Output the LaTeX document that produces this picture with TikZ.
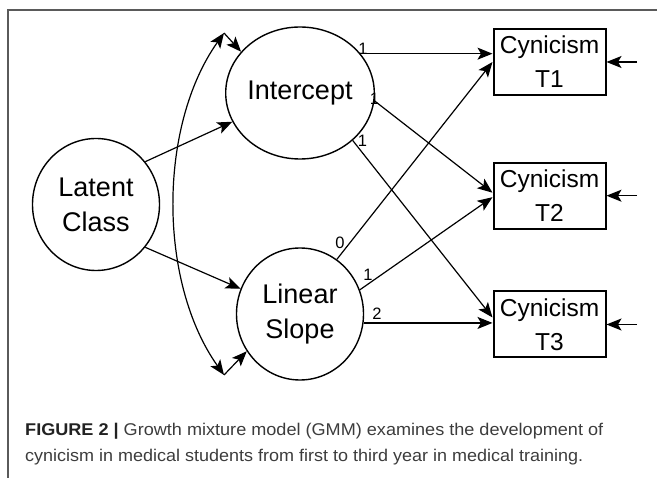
\documentclass[tikz,border=0pt]{standalone}
\usepackage{fontspec}
\usepackage{graphicx}
\setmainfont{Liberation Sans}
\usetikzlibrary{shapes.geometric,arrows.meta,calc}

\definecolor{framegray}{HTML}{5A5A5A}
\definecolor{captext}{HTML}{3C3C3C}
\definecolor{capbold}{HTML}{222222}

\begin{document}
\begin{tikzpicture}[x=1pt,y=-1pt,
  latentvar/.style={ellipse,draw,line width=1.4pt,minimum width=127pt,minimum height=132pt,
    inner sep=0pt,align=center,font=\fontsize{27}{35}\selectfont},
  obsvar/.style={rectangle,draw,line width=2pt,minimum width=112pt,minimum height=66pt,
    inner sep=0pt,align=center,font=\fontsize{24.5}{34}\selectfont},
  tip/.tip={Stealth[length=15pt,width=12pt,inset=3.5pt]},
  conn/.style={line width=1.2pt,-tip},
  biconn/.style={line width=1.2pt,tip-tip},
  loading/.style={inner sep=0pt,font=\fontsize{16.5}{18}\selectfont},
  captionline/.style={anchor=base west,inner sep=0pt,text=captext,font=\fontsize{17}{22}\selectfont}]

\useasboundingbox (0,0) rectangle (657,478);

% outer frame (open on the right and at the bottom)
\draw[framegray,line width=1.5pt] (8,478) -- (8,10) -- (657,10);

% latent variables
\node[latentvar] (lat) at (96,204.5) {Latent\\Class};
\node[latentvar] (int) at (300,93) {Intercept};
\node[latentvar] (sl)  at (300,314) {Linear\\Slope};

% observed indicators
\node[obsvar] (t1) at (549.5,62)    {Cynicism\\T1};
\node[obsvar] (t2) at (549.5,195.7) {Cynicism\\T2};
\node[obsvar] (t3) at (549.5,324.5) {Cynicism\\T3};

% class -> growth factors
\draw[conn] (lat.41)  -- (int.203);
\draw[conn] (lat.-41) -- (sl.157);

% covariance between intercept and slope
\coordinate (ctop) at (224,33);
\coordinate (cbot) at (224,375);
\draw[biconn] (cbot) .. controls (158,282) and (158,126) .. (ctop);
\draw[conn] (ctop) -- (int.145);
\draw[conn] (cbot) -- (sl.215);

% intercept loadings
\draw[conn] (int.33)  -- (int.33 -| t1.west);
\draw[conn] (int.-6)  -- ([yshift=3pt]t2.west);
\draw[conn] (int.-42) -- ([yshift=7pt]t3.west);

% slope loadings
\draw[conn] (sl.56) -- (t1.west);
\draw[conn] (sl.22) -- ([yshift=-1.5pt]t2.west);
\draw[conn] (sl.-8) -- (sl.-8 -| t3.west);

% loading values
\node[loading] (li1) at (363,48.5) {1};
\node[loading] (li2) at (374.5,99) {1};
\node[loading] (li3) at (362.5,141){1};
\node[loading] (ls0) at (340,243)  {0};
\node[loading] (ls1) at (368,275)  {1};
\node[loading] (ls2) at (377,314)  {2};

% residuals
\coordinate (r1) at (637,62);
\coordinate (r2) at (637,195.7);
\coordinate (r3) at (637,324.5);
\draw[conn] (r1) -- (t1.east);
\draw[conn] (r2) -- (t2.east);
\draw[conn] (r3) -- (t3.east);

% caption, each line set to its column width
\node[captionline] (cap1) at (25,435.3)
  {\resizebox{578pt}{\height}{\textcolor{capbold}{\textbf{FIGURE 2 |}} Growth mixture model (GMM) examines the development of}};
\node[captionline] (cap2) at (25,461.3)
  {\resizebox{558pt}{\height}{cynicism in medical students from first to third year in medical training.}};
\end{tikzpicture}
\end{document}
